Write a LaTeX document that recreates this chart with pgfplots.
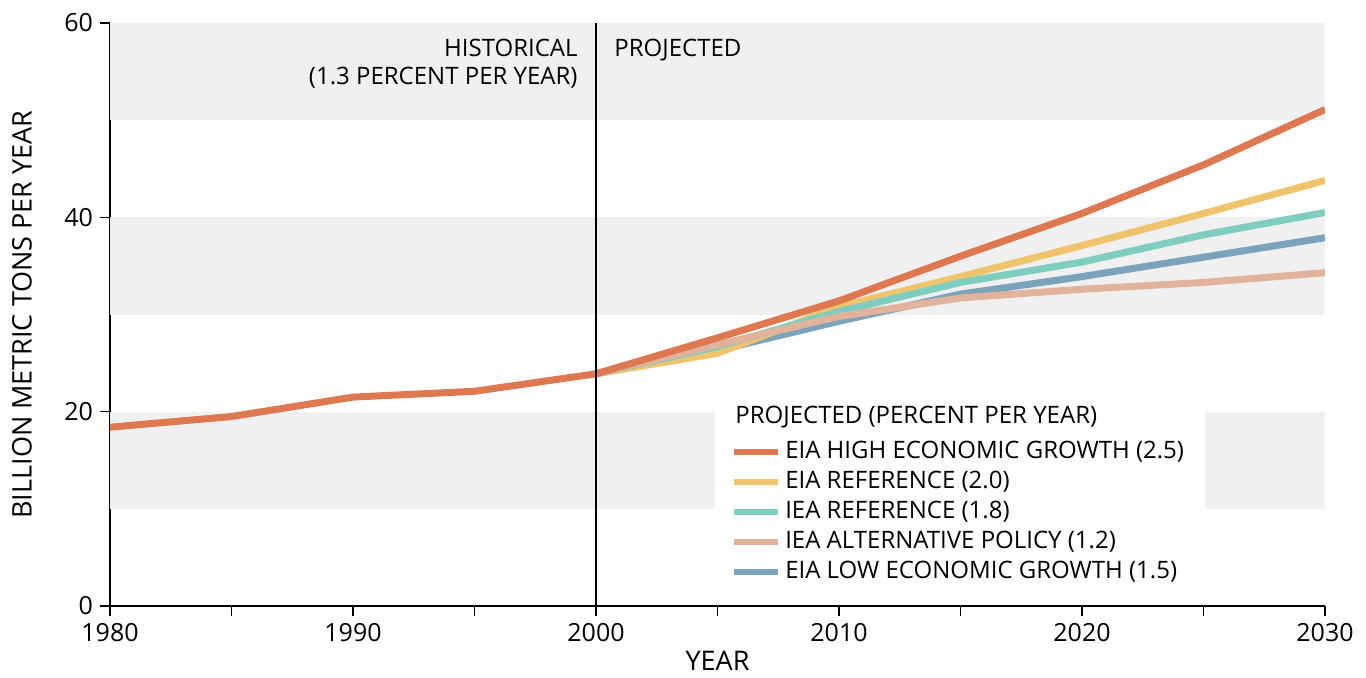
\documentclass[border=0pt]{standalone}
\usepackage{pgfplots}
\pgfplotsset{compat=1.18}
\usepackage{fontspec}
\setmainfont{Open Sans}
\definecolor{cOrange}{HTML}{DE7850}
\definecolor{cYellow}{HTML}{F0C46C}
\definecolor{cTeal}{HTML}{7ECDC0}
\definecolor{cPink}{HTML}{E2B39C}
\definecolor{cBlue}{HTML}{7BA3BC}
\definecolor{cBand}{HTML}{F0F0F0}
\begin{document}
\begin{tikzpicture}
\path[use as bounding box] (-55pt,-35.5pt) rectangle (628pt,303pt);
\begin{axis}[
  scale only axis, width=607.5pt, height=291.5pt,
  at={(0,0)}, anchor=south west,
  xmin=1980, xmax=2030, ymin=0, ymax=60,
  axis x line*=bottom, axis y line*=left,
  axis line style={line width=1pt, -},
  xtick={1980,1990,...,2030}, minor xtick={1985,1995,...,2025},
  ytick={0,20,40,60},
  tick align=outside, major tick length=5pt, minor tick length=5pt,
  every tick/.style={black, line width=0.8pt},
  every minor tick/.style={black, line width=0.8pt},
  /pgf/number format/assume math mode=true,
  /pgf/number format/1000 sep={},
  tick label style={font=\fontsize{12.5}{14}\selectfont},
  label style={font=\fontsize{13.5}{15}\selectfont},
  xlabel={YEAR}, ylabel={BILLION METRIC TONS PER YEAR},
  xlabel style={at={(axis description cs:0.5,-0.094)}, anchor=center},
  ylabel style={at={(axis description cs:-0.0724,0.5)}, anchor=center},
  legend style={at={(axis cs:2005.55,17.4)}, anchor=north west, draw=none, fill=none,
    inner sep=0pt, row sep=0pt,
    font=\fontsize{12}{14}\selectfont,
    nodes={text height=8.6pt, text depth=2.4pt, inner sep=2pt}},
  legend cell align=left,
  legend image code/.code={\draw[line width=3pt] (0pt,0pt) -- (22pt,0pt);},
]
% background bands
\fill[cBand] (axis cs:1980,50) rectangle (axis cs:2030,60);
\fill[cBand] (axis cs:1980,30) rectangle (axis cs:2030,40);
\fill[cBand] (axis cs:1980,10) rectangle (axis cs:2004.9,20);
\fill[cBand] (axis cs:2025.05,10) rectangle (axis cs:2030,20);

% projections (drawn back to front)
\addplot[cBlue, line width=3.5pt, forget plot] coordinates {(2000,23.9) (2005,26.3) (2010,29.3) (2015,32.1) (2020,33.9) (2025,35.9) (2030,37.9)};
\addplot[cYellow, line width=3.5pt, forget plot] coordinates {(2000,23.9) (2005,26.0) (2010,30.8) (2015,33.9) (2020,37.1) (2025,40.4) (2030,43.8)};
\addplot[cTeal, line width=3.5pt, forget plot] coordinates {(2000,23.9) (2005,26.7) (2010,30.3) (2015,33.3) (2020,35.4) (2025,38.2) (2030,40.5)};
\addplot[cPink, line width=3.5pt, forget plot] coordinates {(2000,23.9) (2005,26.9) (2010,29.8) (2015,31.7) (2020,32.6) (2025,33.3) (2030,34.3)};
\addplot[cOrange, line width=3.5pt, forget plot] coordinates {(2000,23.9) (2005,27.6) (2010,31.4) (2015,36.0) (2020,40.4) (2025,45.4) (2030,51.1)};
% historical
\addplot[cOrange, line width=3.5pt, forget plot] coordinates {(1980,18.4) (1985,19.5) (1990,21.5) (1995,22.1) (2000,23.9)};

% legend entries
\addlegendimage{cOrange}\addlegendentry{EIA HIGH ECONOMIC GROWTH (2.5)}
\addlegendimage{cYellow}\addlegendentry{EIA REFERENCE (2.0)}
\addlegendimage{cTeal}\addlegendentry{IEA REFERENCE (1.8)}
\addlegendimage{cPink}\addlegendentry{IEA ALTERNATIVE POLICY (1.2)}
\addlegendimage{cBlue}\addlegendentry{EIA LOW ECONOMIC GROWTH (1.5)}

\draw[black, line width=1pt] (axis cs:2000,0) -- (axis cs:2000,60);
\node[anchor=north east, align=right, inner sep=0pt, font=\fontsize{12}{14}\selectfont] at (axis cs:1999.26,58.4) {HISTORICAL\\(1.3 PERCENT PER YEAR)};
\node[anchor=north west, inner sep=0pt, font=\fontsize{12}{14}\selectfont] at (axis cs:2000.74,58.4) {PROJECTED};
\node[anchor=north west, inner sep=0pt, font=\fontsize{12}{14}\selectfont] at (axis cs:2005.72,20.6) {PROJECTED (PERCENT PER YEAR)};
\end{axis}
\end{tikzpicture}
\end{document}
